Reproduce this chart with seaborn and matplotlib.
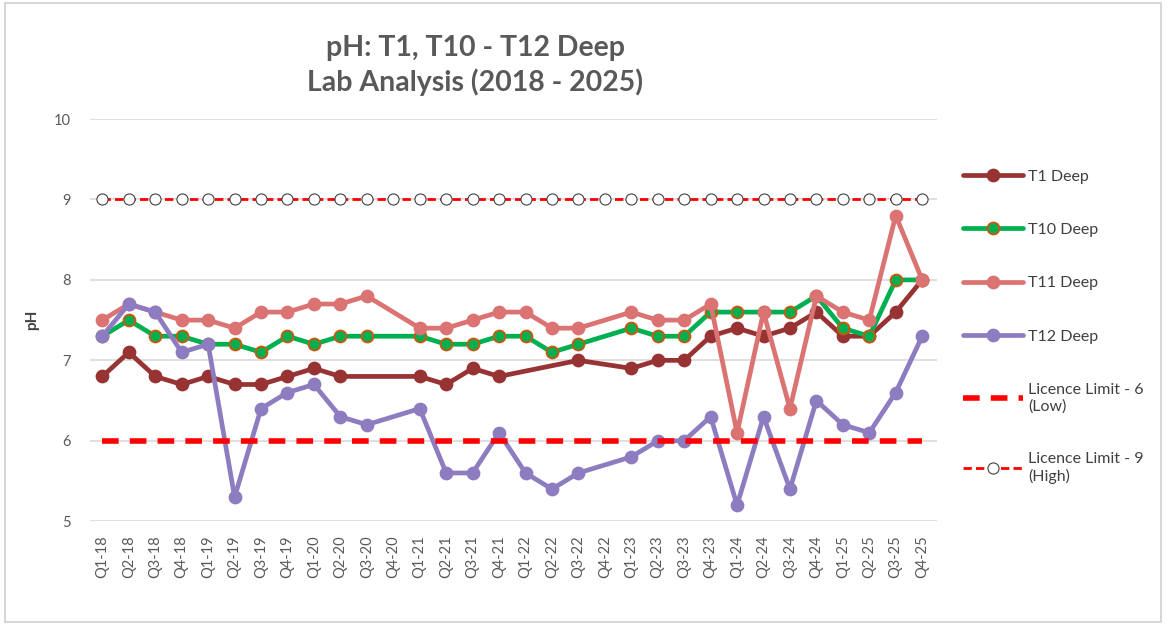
import numpy as np
import pandas as pd
import seaborn as sns
import matplotlib
matplotlib.use("Agg")
import matplotlib.pyplot as plt
from matplotlib.patches import Rectangle

quarters = ["Q1-18", "Q2-18", "Q3-18", "Q4-18", "Q1-19", "Q2-19", "Q3-19", "Q4-19",
            "Q1-20", "Q2-20", "Q3-20", "Q4-20", "Q1-21", "Q2-21", "Q3-21", "Q4-21",
            "Q1-22", "Q2-22", "Q3-22", "Q4-22", "Q1-23", "Q2-23", "Q3-23", "Q4-23",
            "Q1-24", "Q2-24", "Q3-24", "Q4-24", "Q1-25", "Q2-25", "Q3-25", "Q4-25"]
nan = np.nan
t1 = [6.8, 7.1, 6.8, 6.7, 6.8, 6.7, 6.7, 6.8, 6.9, 6.8, nan, nan, 6.8, 6.7, 6.9, 6.8,
      nan, nan, 7.0, nan, 6.9, 7.0, 7.0, 7.3, 7.4, 7.3, 7.4, 7.6, 7.3, 7.3, 7.6, 8.0]
t10 = [7.3, 7.5, 7.3, 7.3, 7.2, 7.2, 7.1, 7.3, 7.2, 7.3, 7.3, nan, 7.3, 7.2, 7.2, 7.3,
       7.3, 7.1, 7.2, nan, 7.4, 7.3, 7.3, 7.6, 7.6, 7.6, 7.6, 7.8, 7.4, 7.3, 8.0, 8.0]
t11 = [7.5, 7.7, 7.6, 7.5, 7.5, 7.4, 7.6, 7.6, 7.7, 7.7, 7.8, nan, 7.4, 7.4, 7.5, 7.6,
       7.6, 7.4, 7.4, nan, 7.6, 7.5, 7.5, 7.7, 6.1, 7.6, 6.4, 7.8, 7.6, 7.5, 8.8, 8.0]
t12 = [7.3, 7.7, 7.6, 7.1, 7.2, 5.3, 6.4, 6.6, 6.7, 6.3, 6.2, nan, 6.4, 5.6, 5.6, 6.1,
       5.6, 5.4, 5.6, nan, 5.8, 6.0, 6.0, 6.3, 5.2, 6.3, 5.4, 6.5, 6.2, 6.1, 6.6, 7.3]
limit_low = [6.0] * len(quarters)
limit_high = [9.0] * len(quarters)

series_names = ["T1 Deep", "T10 Deep", "T11 Deep", "T12 Deep"]
series_values = [t1, t10, t11, t12]
series_colors = ["#983333", "#00B050", "#DA7372", "#8D7CC0"]
marker_edges = ["#983333", "#C55A11", "#DA7372", "#8D7CC0"]

sns.set_theme(style="white")
plt.rcParams['font.family'] = ['Lato', 'DejaVu Sans']

fig = plt.figure(figsize=(11.68, 6.28), dpi=100)
ax = fig.add_axes([0.077, 0.170, 0.725, 0.6405])

idx = np.arange(len(quarters))
for name, vals, col, mec in zip(series_names, series_values, series_colors, marker_edges):
    df = pd.DataFrame({"x": idx, "pH": vals}).dropna()
    sns.lineplot(data=df, x="x", y="pH", ax=ax, color=col, lw=3.4, marker="o",
                 markersize=8.5, markerfacecolor=col, markeredgecolor=mec,
                 markeredgewidth=1.4, label=name, sort=False, zorder=3)

df_low = pd.DataFrame({"x": idx, "pH": limit_low})
sns.lineplot(data=df_low, x="x", y="pH", ax=ax, color="#FF0000", lw=4,
             dashes=False, label="Licence Limit - 6\n(Low)", zorder=4)
ax.lines[-1].set_dashes([3, 2])

df_high = pd.DataFrame({"x": idx, "pH": limit_high})
sns.lineplot(data=df_high, x="x", y="pH", ax=ax, color="#FF0000", lw=2,
             marker="o", markersize=8, markerfacecolor="white",
             markeredgecolor="#404040", markeredgewidth=0.8,
             label="Licence Limit - 9\n(High)", zorder=4)
ax.lines[-1].set_dashes([3, 1.5])

ax.set_xlim(-0.47, 31.55)
ax.set_ylim(5, 10)
ax.set_yticks([5, 6, 7, 8, 9, 10])
ax.set_xticks(idx)
ax.set_xticklabels(quarters, rotation=90)
ax.tick_params(axis="both", length=0, labelsize=10.5, colors="#595959")
ax.tick_params(axis="x", pad=10)
ax.tick_params(axis="y", pad=14)
ax.grid(axis="y", color="#D9D9D9", lw=1.2)
ax.grid(axis="x", visible=False)
for s in ax.spines.values():
    s.set_visible(False)
ax.set_xlabel("")
ax.set_ylabel("pH", fontsize=11, fontweight="bold", color="#404040", labelpad=10)

ax.get_legend().remove()
handles, labels = ax.get_legend_handles_labels()
fig.legend(handles, labels, loc="upper left", bbox_to_anchor=(0.812, 0.753),
           frameon=False, fontsize=11.5, labelcolor="#404040", handlelength=3.8,
           handletextpad=0.3, labelspacing=2.45)

fig.text(0.407, 0.896, "pH: T1, T10 - T12 Deep\nLab Analysis (2018 - 2025)",
         ha="center", va="center", fontsize=20.5, fontweight="bold", color="#595959",
         linespacing=1.35)

fig.add_artist(Rectangle((0.004, 0.01), 0.99, 0.985, transform=fig.transFigure,
                         fill=False, ec="#D0D0D0", lw=1.2))

fig.savefig("out.png", dpi=100)
